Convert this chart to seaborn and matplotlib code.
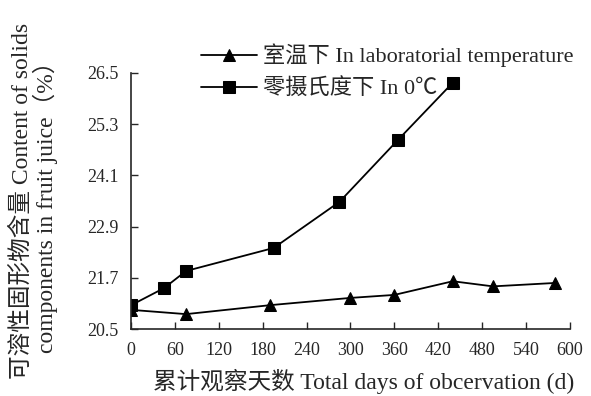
import matplotlib
matplotlib.use("Agg")
import matplotlib.pyplot as plt
import seaborn as sns
import pandas as pd

room_days = [0, 75, 190, 300, 360, 440, 495, 580]
room_vals = [20.95, 20.85, 21.06, 21.23, 21.30, 21.62, 21.50, 21.58]
cold_days = [0, 45, 75, 195, 285, 365, 440]
cold_vals = [21.06, 21.46, 21.86, 22.40, 23.48, 24.93, 26.27]
series_names = ["室温下 In laboratorial temperature", "零摄氏度下 In 0℃"]
x_ticks = [0, 60, 120, 180, 240, 300, 360, 420, 480, 540, 600]
y_ticks = [20.5, 21.7, 22.9, 24.1, 25.3, 26.5]

df = pd.concat([
    pd.DataFrame({"day": room_days, "val": room_vals, "series": series_names[0]}),
    pd.DataFrame({"day": cold_days, "val": cold_vals, "series": series_names[1]}),
])

sns.set_style("ticks")
plt.rcParams['font.family'] = ['Liberation Serif', 'Noto Sans CJK SC']
plt.rcParams['axes.unicode_minus'] = False

fig = plt.figure(figsize=(5.91, 3.96), dpi=100)
ax = fig.add_axes([0.222, 0.169, 0.742, 0.647])

sns.lineplot(data=df, x="day", y="val", hue="series", style="series",
             markers={series_names[0]: "^", series_names[1]: "s"},
             dashes=False, palette={series_names[0]: "black", series_names[1]: "black"},
             markersize=9, linewidth=1.3, markeredgecolor="black", ax=ax,
             hue_order=series_names, style_order=series_names, legend=True)

ax.set_xlim(0, 600)
ax.set_ylim(20.5, 26.5)
ax.set_xticks(x_ticks)
ax.set_yticks(y_ticks)
ax.set_yticklabels([f"{v:.1f}" for v in y_ticks])
ax.tick_params(direction="in", labelsize=13, length=5, width=1, pad=9)
for s in ["top", "right"]:
    ax.spines[s].set_visible(False)
for s in ["left", "bottom"]:
    ax.spines[s].set_linewidth(1.2)

ax.set_xlabel("累计观察天数 Total days of obcervation (d)", fontsize=17, labelpad=7)
ax.xaxis.set_label_coords(0.53, -0.155)
ax.set_ylabel("可溶性固形物含量 Content of solids\ncomponents in fruit juice（%）",
              fontsize=17, labelpad=21, linespacing=1.0)

handles, labels = ax.get_legend_handles_labels()
ax.legend(handles, labels, loc="upper left", bbox_to_anchor=(0.325, 0.912),
          bbox_transform=fig.transFigure, frameon=False, fontsize=16,
          handlelength=2.5, handletextpad=0.3, labelspacing=0.5, borderaxespad=0)

fig.savefig("out.png", dpi=100)
